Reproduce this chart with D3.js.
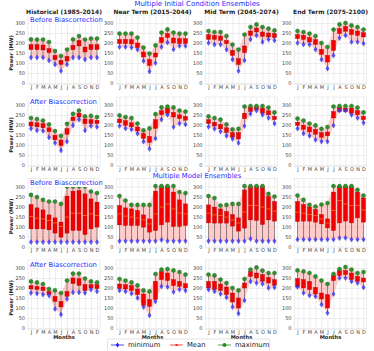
<!DOCTYPE html>
<html>
<head>
<meta charset="utf-8">
<script src="https://cdn.jsdelivr.net/npm/d3@7"></script>
<style>
body { margin: 0; background: #fff; }
text { font-family: "DejaVu Sans", sans-serif; }
</style>
</head>
<body>
<script>
var months = ["J","F","M","A","M","J","J","A","S","O","N","D"];
var colTitles = ["Historical (1985-2014)", "Near Term (2015-2044)", "Mid Term (2045-2074)", "End Term (2075-2100)"];
var rowLabels = ["Before Biascorrection", "After Biascorrection", "Before Biascorrection", "After Biascorrection"];
var yTicks = [0, 50, 100, 150, 200, 250, 300];

// row 1: initial condition ensembles, before bias correction (one array per column)
var icBeforeMax = [
  [218,217,217,205,160,135,167,218,235,217,222,222],
  [247,247,247,227,177,147,188,252,268,252,247,247],
  [260,255,255,235,192,167,242,280,293,280,272,263],
  [260,255,247,235,200,180,267,293,300,288,280,267]];
var icBeforeHi = [
  [192,192,190,172,138,113,133,188,213,180,192,192],
  [218,218,217,200,155,117,150,227,247,225,222,222],
  [242,238,235,213,163,122,185,260,275,255,250,247],
  [242,238,227,217,168,138,213,272,283,267,260,252]];
var icBeforeLo = [
  [167,167,165,152,117,93,110,167,185,155,167,167],
  [197,197,195,177,130,88,130,202,227,200,197,197],
  [218,218,213,197,138,92,152,238,255,233,230,227],
  [222,218,205,193,143,105,163,247,258,242,238,230]];
var icBeforeMin = [
  [127,127,127,113,93,60,93,127,127,117,127,127],
  [180,180,177,167,110,58,100,180,202,168,185,185],
  [200,192,192,167,117,60,113,218,238,205,217,213],
  [200,193,192,167,117,72,138,225,238,205,205,197]];

// row 2: initial condition ensembles, after bias correction
var icAfterMax = [
  [235,230,222,203,170,146,206,256,272,243,246,240],
  [248,240,235,207,173,183,254,288,292,288,272,267],
  [243,235,227,203,178,181,292,295,295,295,287,263],
  [232,222,207,198,181,190,292,295,295,295,287,263]];
var icAfterHi = [
  [215,211,207,186,149,125,182,240,259,230,227,224],
  [230,222,211,190,157,143,227,272,284,263,251,243],
  [227,214,203,186,162,162,259,289,292,284,271,243],
  [214,199,190,178,162,165,267,289,284,284,272,243]];
var icAfterLo = [
  [195,191,186,167,126,97,154,222,240,207,207,207],
  [211,199,191,170,133,113,183,251,259,240,232,224],
  [207,195,181,162,138,130,232,267,276,259,251,227],
  [198,178,165,154,138,146,235,267,267,259,251,227]];
var icAfterMin = [
  [182,173,170,138,110,73,117,198,227,173,195,190],
  [195,183,178,157,117,81,133,227,251,190,207,203],
  [191,181,167,146,130,110,195,256,272,251,235,207],
  [182,157,146,126,117,117,198,272,272,251,235,211]];

// row 3: multi-model ensembles, before bias correction
var mmBeforeMax = [
  [258,247,233,225,225,213,300,300,300,300,275,267],
  [252,230,208,208,208,208,302,302,302,302,272,267],
  [252,242,205,208,213,213,302,302,302,302,263,250],
  [255,233,208,200,210,217,302,302,302,302,283,255]];
var mmBeforeHi = [
  [210,193,183,158,143,122,252,277,280,263,238,222],
  [205,193,188,180,158,138,277,300,300,272,233,213],
  [208,197,188,175,160,143,283,300,300,300,250,225],
  [225,210,197,185,160,138,272,300,300,300,272,243]];
var mmBeforeLo = [
  [88,88,88,83,67,47,67,80,80,60,88,97],
  [108,105,105,105,97,72,80,108,122,100,100,105],
  [118,117,117,117,102,77,92,133,130,110,133,127],
  [125,127,127,122,113,93,80,118,127,118,143,122]];
var mmBeforeMean = [
  [150,142,138,130,118,100,147,167,167,155,163,155],
  [163,152,147,142,133,113,163,197,213,188,167,163],
  [167,158,155,147,133,117,172,205,205,197,188,177],
  [172,167,160,155,138,117,180,230,213,205,205,183]];
var mmBeforeMin = [
  [22,22,22,22,22,22,22,22,22,22,22,22],
  [27,27,27,27,27,27,27,33,27,27,27,27],
  [27,27,27,27,27,27,27,38,27,27,27,27],
  [35,35,35,35,35,35,35,42,43,35,35,35]];

// row 4: multi-model ensembles, after bias correction
var mmAfterMax = [
  [233,228,220,195,188,175,237,272,272,247,233,228],
  [245,237,228,213,188,183,270,292,295,288,280,267],
  [267,263,242,225,200,188,245,292,303,287,275,275],
  [288,283,275,258,237,220,270,295,305,292,275,280]];
var mmAfterHi = [
  [212,208,205,183,158,133,183,250,247,217,217,217],
  [220,217,212,195,170,142,233,283,275,242,233,222],
  [233,233,220,205,175,150,225,283,275,267,253,242],
  [247,242,233,203,175,167,263,287,287,275,258,250]];
var mmAfterLo = [
  [195,192,187,167,133,105,158,222,213,187,200,197],
  [197,195,187,167,113,108,142,242,237,212,208,200],
  [200,192,187,167,130,100,200,258,250,233,225,213],
  [205,200,192,170,145,100,237,262,267,242,233,230]];
var mmAfterMin = [
  [175,172,167,163,95,67,145,178,178,175,192,183],
  [188,183,172,150,105,63,133,208,205,180,192,187],
  [192,183,170,153,105,72,138,233,225,220,200,203],
  [205,175,163,158,117,75,170,250,250,233,225,203]];

var rows = [
  {max: icBeforeMax, hi: icBeforeHi, lo: icBeforeLo, min: icBeforeMin},
  {max: icAfterMax, hi: icAfterHi, lo: icAfterLo, min: icAfterMin},
  {max: mmBeforeMax, hi: mmBeforeHi, lo: mmBeforeLo, min: mmBeforeMin, mean: mmBeforeMean},
  {max: mmAfterMax, hi: mmAfterHi, lo: mmAfterLo, min: mmAfterMin}];

var W = 374, H = 351;
var colLeft = [28, 116.5, 205.5, 294.5];
var pw = 72;
var rowZero = [83, 165, 246.5, 328];

var svg = d3.select("body").append("svg")
  .attr("width", W)
  .attr("height", H);

svg.append("text")
  .attr("x", 197).attr("y", 6.3)
  .attr("text-anchor", "middle")
  .attr("font-size", 7)
  .attr("fill", "#2a2aff")
  .text("Multiple Initial Condition Ensembles");

svg.append("text")
  .attr("x", 197).attr("y", 177.8)
  .attr("text-anchor", "middle")
  .attr("font-size", 6.8)
  .attr("fill", "#2a2aff")
  .text("Multiple Model Ensembles");

var idx = d3.range(12);

rows.forEach(function(row, r) {
  var y = d3.scaleLinear().domain([-8, 340]).range([rowZero[r] + 1.6, rowZero[r] - 68]);

  colLeft.forEach(function(left, c) {
    var x = d3.scalePoint().domain(idx).range([left, left + pw]).padding(0.5);
    var g = svg.append("g");

    // grid
    g.append("g")
      .attr("transform", "translate(" + left + ",0)")
      .call(d3.axisLeft(y).tickValues(yTicks).tickSize(-pw).tickFormat(""))
      .call(function(s) { s.select(".domain").remove(); })
      .selectAll("line").attr("stroke", "#e3e3e3").attr("stroke-width", 0.6);
    g.append("g")
      .attr("transform", "translate(0," + y(-8) + ")")
      .call(d3.axisBottom(x).tickSize(-(y(-8) - y(340))).tickFormat(""))
      .call(function(s) { s.select(".domain").remove(); })
      .selectAll("line").attr("stroke", "#e3e3e3").attr("stroke-width", 0.6);

    g.append("rect")
      .attr("x", left).attr("y", y(340))
      .attr("width", pw).attr("height", y(-8) - y(340))
      .attr("fill", "none").attr("stroke", "#e6e6e6").attr("stroke-width", 0.7);

    // tick labels
    var ya = g.append("g")
      .attr("transform", "translate(" + left + ",0)")
      .call(d3.axisLeft(y).tickValues(yTicks).tickSize(0).tickPadding(3));
    ya.select(".domain").remove();
    ya.selectAll("text").attr("font-size", 5).attr("fill", "#444").attr("font-family", "DejaVu Sans");

    var xa = g.append("g")
      .attr("transform", "translate(0," + y(-8) + ")")
      .call(d3.axisBottom(x).tickSize(0).tickPadding(0.5).tickFormat(function(i) { return months[i]; }));
    xa.select(".domain").remove();
    xa.selectAll("text").attr("font-size", 5).attr("fill", "#444").attr("font-family", "DejaVu Sans");

    // min-max band
    g.append("path")
      .datum(idx)
      .attr("fill", "#ff9999")
      .attr("fill-opacity", 0.5)
      .attr("d", d3.area()
        .x(function(i) { return x(i); })
        .y0(function(i) { return y(row.min[c][i]); })
        .y1(function(i) { return y(row.max[c][i]); }));

    // whiskers
    g.selectAll(".wh").data(idx).enter().append("line")
      .attr("x1", function(i) { return x(i); })
      .attr("x2", function(i) { return x(i); })
      .attr("y1", function(i) { return y(row.min[c][i]); })
      .attr("y2", function(i) { return y(row.max[c][i]); })
      .attr("stroke", "#333")
      .attr("stroke-width", 0.5);

    // boxes
    g.selectAll(".bx").data(idx).enter().append("rect")
      .attr("x", function(i) { return x(i) - 2; })
      .attr("width", 4)
      .attr("y", function(i) { return y(row.hi[c][i]); })
      .attr("height", function(i) { return y(row.lo[c][i]) - y(row.hi[c][i]); })
      .attr("fill", "#f00000")
      .attr("stroke", "#b00000")
      .attr("stroke-width", 0.4);

    if (row.mean) {
      g.selectAll(".mn").data(idx).enter().append("line")
        .attr("x1", function(i) { return x(i) - 2; })
        .attr("x2", function(i) { return x(i) + 2; })
        .attr("y1", function(i) { return y(row.mean[c][i]); })
        .attr("y2", function(i) { return y(row.mean[c][i]); })
        .attr("stroke", "#ff9a1a")
        .attr("stroke-width", 0.6);
    }

    // minimum markers
    g.selectAll(".mi").data(idx).enter().append("path")
      .attr("transform", function(i) { return "translate(" + x(i) + "," + y(row.min[c][i]) + ")"; })
      .attr("d", "M0,-2.6L1.7,0L0,2.6L-1.7,0Z")
      .attr("fill", "#3a3aff")
      .attr("fill-opacity", 0.85)
      .attr("stroke", "#2020cc")
      .attr("stroke-width", 0.3);

    // maximum markers
    g.selectAll(".ma").data(idx).enter().append("circle")
      .attr("cx", function(i) { return x(i); })
      .attr("cy", function(i) { return y(row.max[c][i]); })
      .attr("r", 2.1)
      .attr("fill", "#2f8f2f")
      .attr("stroke", "#1c5c1c")
      .attr("stroke-width", 0.3);

    if (r === 0) {
      svg.append("text")
        .attr("x", left + pw / 2).attr("y", y(340) - 1.2)
        .attr("text-anchor", "middle")
        .attr("font-size", 6)
        .attr("font-weight", "bold")
        .attr("fill", "#222")
        .text(colTitles[c]);
    }
    if (r === 3) {
      svg.append("text")
        .attr("x", left + pw / 2).attr("y", y(-8) + 9.5)
        .attr("text-anchor", "middle")
        .attr("font-size", 5.2)
        .attr("font-weight", "bold")
        .attr("fill", "#222")
        .text("Months");
    }
    if (c === 0) {
      svg.append("rect")
        .attr("x", left + 1).attr("y", y(340) + 0.5)
        .attr("width", 70).attr("height", 8)
        .attr("fill", "#fff");
      svg.append("text")
        .attr("x", left + 2).attr("y", y(340) + 6.8)
        .attr("font-size", 6.8)
        .attr("fill", "#2a2aff")
        .text(rowLabels[r]);
      svg.append("text")
        .attr("transform", "translate(13," + y(150) + ") rotate(-90)")
        .attr("text-anchor", "middle")
        .attr("font-size", 5.2)
        .attr("font-weight", "bold")
        .attr("fill", "#222")
        .text("Power (MW)");
    }
  });
});

// legend
var lg = svg.append("g");
lg.append("rect")
  .attr("x", 107.5).attr("y", 339)
  .attr("width", 162).attr("height", 14)
  .attr("rx", 1.5)
  .attr("fill", "#fff").attr("stroke", "#d0d0d0").attr("stroke-width", 0.6);

var legendItems = [
  {label: "minimum", color: "#2020ff", x: 111},
  {label: "Mean", color: "#ff2020", x: 170},
  {label: "maximum", color: "#228b22", x: 218}];

legendItems.forEach(function(d, i) {
  lg.append("line")
    .attr("x1", d.x).attr("x2", d.x + 13)
    .attr("y1", 345).attr("y2", 345)
    .attr("stroke", d.color).attr("stroke-width", 0.8);
  if (i === 0) {
    lg.append("path")
      .attr("transform", "translate(" + (d.x + 6.5) + ",345)")
      .attr("d", "M0,-2.6L1.7,0L0,2.6L-1.7,0Z")
      .attr("fill", d.color);
  } else if (i === 1) {
    lg.append("rect")
      .attr("x", d.x + 5.5).attr("y", 344).attr("width", 2).attr("height", 2)
      .attr("fill", d.color);
  } else {
    lg.append("circle")
      .attr("cx", d.x + 6.5).attr("cy", 345).attr("r", 2)
      .attr("fill", d.color);
  }
  lg.append("text")
    .attr("x", d.x + 17).attr("y", 347.3)
    .attr("font-size", 6.8)
    .attr("fill", "#222")
    .text(d.label);
});
</script>
</body>
</html>
